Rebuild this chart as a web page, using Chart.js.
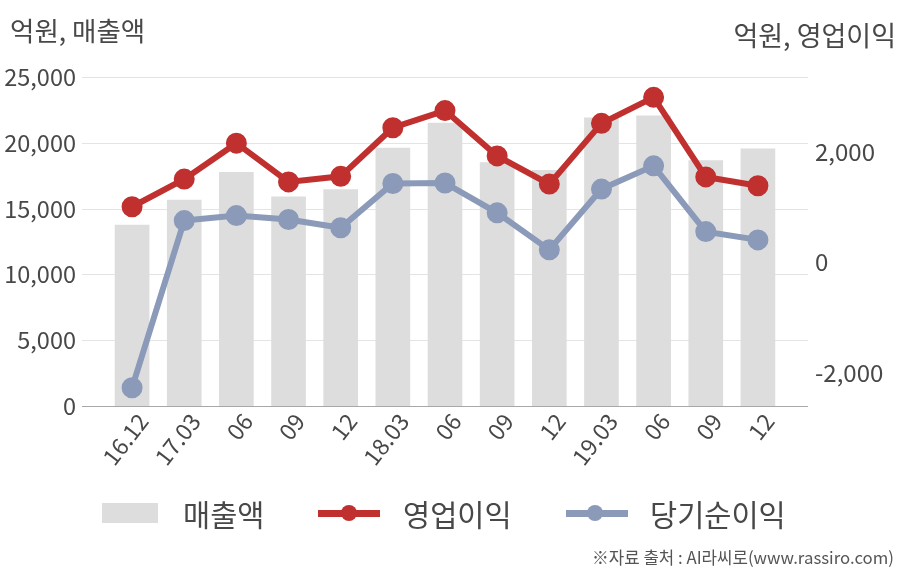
<!DOCTYPE html>
<html><head><meta charset="utf-8">
<script src="https://cdn.jsdelivr.net/npm/chart.js@4.4.1/dist/chart.umd.min.js"></script>
<style>
html,body{margin:0;padding:0;background:#fff;}
#wrap{position:relative;width:908px;height:580px;font-family:"Noto Sans CJK KR","Noto Sans",sans-serif;color:#484848;}
canvas{position:absolute;left:0;top:0;}
.t{position:absolute;white-space:nowrap;}
.lg{position:absolute;font-size:29.5px;color:#484848;line-height:32px;}
</style></head>
<body><div id="wrap">
<canvas id="c" width="908" height="580"></canvas>
<div class="t" style="left:10px;top:10px;font-size:26.5px;">억원, 매출액</div>
<div class="t" style="right:12px;top:15px;font-size:27px;">억원, 영업이익</div>
<div style="position:absolute;left:102px;top:503px;width:56px;height:20px;background:#dddddd"></div>
<div class="lg" style="left:183px;top:497px;">매출액</div>
<div style="position:absolute;left:318px;top:510px;width:62px;height:7px;background:#c0302f"></div>
<div style="position:absolute;left:341px;top:505px;width:16px;height:16px;border-radius:50%;background:#c0302f"></div>
<div class="lg" style="left:403px;top:497px;">영업이익</div>
<div style="position:absolute;left:566px;top:510px;width:62px;height:7px;background:#8b9ab8"></div>
<div style="position:absolute;left:587px;top:505px;width:16px;height:16px;border-radius:50%;background:#8b9ab8"></div>
<div class="lg" style="left:650px;top:497px;">당기순이익</div>
<div class="t" style="right:14px;top:545px;font-size:16.8px;color:#555;">※자료 출처 : AI라씨로(www.rassiro.com)</div>
</div>
<script>
const categories = ["16.12","17.03","06","09","12","18.03","06","09","12","19.03","06","09","12"];
const sales = [13750,15650,17750,15900,16450,19600,21500,18500,17900,21900,22050,18650,19550];
const operatingProfit = [1000,1500,2150,1450,1550,2430,2740,1920,1410,2510,2980,1540,1380];
const netIncome = [-2275,750,840,770,620,1420,1430,890,220,1320,1740,550,400];
const leftTicks = [0,5000,10000,15000,20000,25000];
const rightTicks = [-2000,0,2000];

const FONT = '"Noto Sans CJK KR","Noto Sans",sans-serif';
const gridPlugin = {
  id:'gridExt',
  beforeDatasetsDraw(chart){
    const {ctx, chartArea:a, scales} = chart;
    const y = scales.y;
    ctx.save();
    ctx.lineWidth = 1;
    ctx.strokeStyle = '#e4e4e4';
    leftTicks.forEach(v=>{
      if(v===0) return;
      const py = Math.round(y.getPixelForValue(v))+0.5;
      ctx.beginPath(); ctx.moveTo(a.left-24, py); ctx.lineTo(a.right+24, py); ctx.stroke();
    });
    ctx.restore();
  },
  afterDatasetsDraw(chart){
    const {ctx, chartArea:a, scales} = chart;
    const py = Math.round(scales.y.getPixelForValue(0))+0.5;
    ctx.save();
    ctx.strokeStyle = '#a8a8a8'; ctx.lineWidth = 1;
    ctx.beginPath(); ctx.moveTo(a.left-24, py); ctx.lineTo(a.right+24, py); ctx.stroke();
    ctx.restore();
  }
};

new Chart(document.getElementById('c'), {
  data:{
    labels:categories,
    datasets:[
      {type:'line',label:'영업이익',data:operatingProfit,yAxisID:'y1',borderColor:'#c0302f',backgroundColor:'#c0302f',borderWidth:6,pointRadius:7.5,pointHoverRadius:7.5,tension:0,order:1},
      {type:'line',label:'당기순이익',data:netIncome,yAxisID:'y1',borderColor:'#8b9ab8',backgroundColor:'#8b9ab8',borderWidth:6,pointRadius:7.5,pointHoverRadius:7.5,tension:0,order:2},
      {type:'bar',label:'매출액',data:sales,yAxisID:'y',backgroundColor:'#dddddd',barThickness:34,order:3}
    ]
  },
  options:{
    responsive:false,animation:false,
    layout:{padding:{top:77,bottom:0,left:0,right:0}},
    plugins:{legend:{display:false},tooltip:{enabled:false}},
    scales:{
      x:{
        grid:{display:false},border:{display:false},
        ticks:{color:'#484848',font:{family:FONT,size:23},maxRotation:52,minRotation:52,padding:-6,labelOffset:11,autoSkip:false},
        afterFit(s){s.height=174;}
      },
      y:{
        position:'left',min:0,max:25000,
        grid:{display:false,drawTicks:false},border:{display:false},
        afterBuildTicks(s){s.ticks=leftTicks.map(v=>({value:v}));},
        ticks:{color:'#484848',padding:30,font:{family:FONT,size:23.5},callback:v=>v.toLocaleString('en-US')},
        afterFit(s){s.width=106;}
      },
      y1:{
        position:'right',min:-2606,max:3348,
        grid:{display:false,drawTicks:false},border:{display:false},
        afterBuildTicks(s){s.ticks=rightTicks.map(v=>({value:v}));},
        ticks:{color:'#484848',padding:31,font:{family:FONT,size:24},callback:v=>v.toLocaleString('en-US')},
        afterFit(s){s.width=124;}
      }
    }
  },
  plugins:[gridPlugin]
});
</script>
</body></html>
